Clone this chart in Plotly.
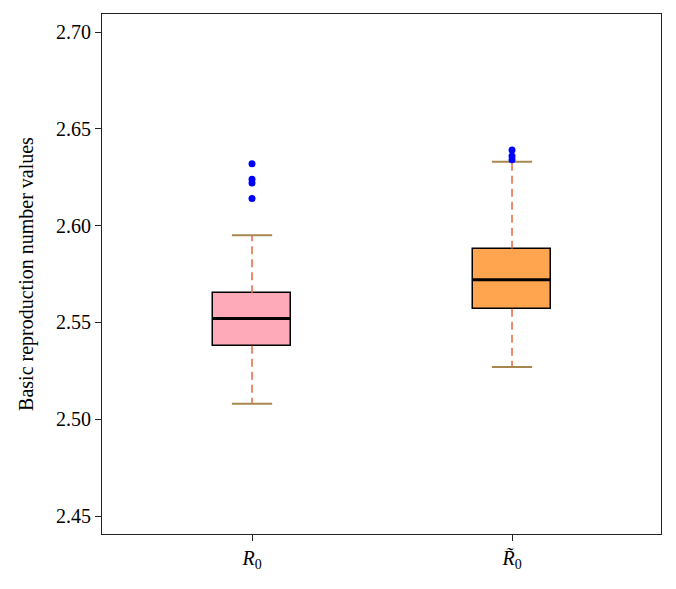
import plotly.graph_objects as go

# ---- data ----
categories = ["<i>R</i><sub>0</sub>", "<i>R̃</i><sub>0</sub>"]
positions = [0, 1]
lower_whisker = [2.508, 2.527]
q1 = [2.538, 2.557]
median = [2.552, 2.572]
q3 = [2.565, 2.588]
upper_whisker = [2.595, 2.633]
outliers = [[2.614, 2.622, 2.624, 2.632], [2.634, 2.636, 2.639]]
box_colors = ["#FFAAB8", "#FFA54F"]

BOX_W = 0.30
CAP_W = 0.155
WHISK_COLOR = "#E8673F"
CAP_COLOR = "#A8874F"
FONT = "Liberation Serif"

fig = go.Figure()

for i, x in enumerate(positions):
    # whiskers (dashed)
    fig.add_trace(go.Scatter(x=[x, x], y=[q3[i], upper_whisker[i]], mode="lines",
                             line=dict(color=WHISK_COLOR, width=1.5, dash="8px,5px"),
                             showlegend=False, hoverinfo="skip"))
    fig.add_trace(go.Scatter(x=[x, x], y=[q1[i], lower_whisker[i]], mode="lines",
                             line=dict(color=WHISK_COLOR, width=1.5, dash="8px,5px"),
                             showlegend=False, hoverinfo="skip"))
    # caps
    for yv in (upper_whisker[i], lower_whisker[i]):
        fig.add_trace(go.Scatter(x=[x - CAP_W / 2, x + CAP_W / 2], y=[yv, yv], mode="lines",
                                 line=dict(color=CAP_COLOR, width=2),
                                 showlegend=False, hoverinfo="skip"))

# boxes
fig.add_trace(go.Bar(x=positions, base=q1, y=[b - a for a, b in zip(q1, q3)],
                     width=BOX_W, marker=dict(color=box_colors, line=dict(color="black", width=1.5)),
                     showlegend=False, hoverinfo="skip"))

for i, x in enumerate(positions):
    # median
    fig.add_trace(go.Scatter(x=[x - BOX_W / 2, x + BOX_W / 2], y=[median[i], median[i]], mode="lines",
                             line=dict(color="black", width=3),
                             showlegend=False, hoverinfo="skip"))
    # outliers
    fig.add_trace(go.Scatter(x=[x] * len(outliers[i]), y=outliers[i], mode="markers",
                             marker=dict(color="#0000FF", size=7),
                             showlegend=False, hoverinfo="skip"))

fig.update_layout(
    width=676, height=589,
    margin=dict(l=94, r=23, t=6, b=63),
    plot_bgcolor="white", paper_bgcolor="white",
    font=dict(family=FONT, size=20, color="black"),
    bargap=0,
)
fig.update_xaxes(range=[-0.577, 1.573], tickvals=positions, ticktext=categories,
                 showline=True, linecolor="#222", linewidth=1.2, mirror=True,
                 ticks="outside", ticklen=6, tickcolor="#222", showgrid=False, zeroline=False,
                 tickfont=dict(size=20))
fig.update_yaxes(range=[2.4407, 2.7093], tickvals=[2.45, 2.50, 2.55, 2.60, 2.65, 2.70],
                 tickformat=".2f",
                 showline=True, linecolor="#222", linewidth=1.2, mirror=True,
                 ticks="outside", ticklen=6, tickcolor="#222", showgrid=False, zeroline=False,
                 title=dict(text="Basic reproduction number values", font=dict(size=20), standoff=16))

fig.write_html("out.html")
